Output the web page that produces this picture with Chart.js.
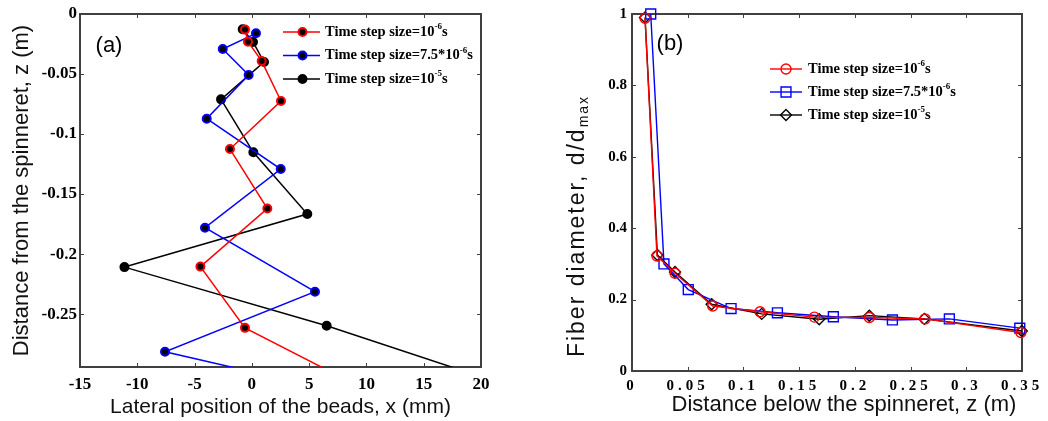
<!DOCTYPE html>
<html><head><meta charset="utf-8">
<script src="https://cdn.jsdelivr.net/npm/chart.js@4.4.0/dist/chart.umd.min.js"></script>
<style>
html,body{margin:0;padding:0;background:#fff;}
#wrap{position:relative;width:1048px;height:421px;overflow:hidden;background:#fff;}
canvas{position:absolute;top:0;}
#ca{left:0;} #cb{left:540px;}
</style></head><body>
<div id="wrap"><canvas id="ca" width="540" height="421"></canvas><canvas id="cb" width="508" height="421"></canvas></div>
<script>
// ---------- Panel (a): lateral position of beads ----------
const redXa   = [-0.6, -0.34, 0.86, 2.54, -1.91, 1.35, -4.49, -0.60, 9.33];
const redZa   = [-0.013, -0.0231, -0.0392, -0.0725, -0.1125, -0.162, -0.2104, -0.2614, -0.31];
const blueXa  = [0.36, -2.54, -0.28, -3.94, 2.52, -4.09, 5.51, -7.58, 15.0];
const blueZa  = [-0.0161, -0.0292, -0.0508, -0.0872, -0.1291, -0.178, -0.2313, -0.2813, -0.331];
const blackXa = [-0.80, 0.10, 1.06, -2.69, 0.13, 4.84, -11.12, 6.53, 22.5];
const blackZa = [-0.0127, -0.0233, -0.040, -0.0711, -0.1152, -0.1666, -0.2108, -0.2597, -0.31];
const xTicksA = [-15, -10, -5, 0, 5, 10, 15, 20];
const xTickLabelsA = ['-15', '-10', '-5', '0', '5', '10', '15', '20'];
const yTicksA = [0, -0.05, -0.1, -0.15, -0.2, -0.25];
const yTickLabelsA = ['0', '-0.05', '-0.1', '-0.15', '-0.2', '-0.25'];
const xTitleA = 'Lateral position of the beads, x (mm)';
const yTitleA = 'Distance from the spinneret, z (m)';

// ---------- Panel (b): fiber diameter ----------
const redZb   = [0.0117, 0.0224, 0.0386, 0.0724, 0.1149, 0.1637, 0.213, 0.263, 0.349];
const redDb   = [0.988, 0.322, 0.274, 0.182, 0.166, 0.151, 0.150, 0.146, 0.108];
const blueZb  = [0.0168, 0.0287, 0.0505, 0.0889, 0.1305, 0.1807, 0.2337, 0.2848, 0.348];
const blueDb  = [1.0, 0.300, 0.228, 0.175, 0.163, 0.152, 0.143, 0.146, 0.120];
const blackZb = [0.0117, 0.0228, 0.0386, 0.0715, 0.1164, 0.168, 0.213, 0.2624, 0.3498];
const blackDb = [0.99, 0.325, 0.277, 0.187, 0.160, 0.145, 0.155, 0.146, 0.112];
const xTicksB = [0, 0.05, 0.1, 0.15, 0.2, 0.25, 0.3, 0.35];
const xTickLabelsB = ['0', '0.05', '0.1', '0.15', '0.2', '0.25', '0.3', '0.35'];
const yTicksB = [0, 0.2, 0.4, 0.6, 0.8, 1];
const yTickLabelsB = ['0', '0.2', '0.4', '0.6', '0.8', '1'];
const xTitleB = 'Distance below the spinneret, z (m)';
const yTitleB = 'Fiber diameter, d/d';
const yTitleSubB = 'max';

// ---------- legend text ----------
const legendBase = ['Time step size=10', 'Time step size=7.5*10', 'Time step size=10'];
const legendExp  = ['-6', '-6', '-5'];
const legendUnit = 's';
const seriesLabels = ['Time step size=10^-6 s', 'Time step size=7.5*10^-6 s', 'Time step size=10^-5 s'];

Chart.defaults.font.family = 'Liberation Serif';
Chart.defaults.color = '#000';

function pts(xs, ys) { return xs.map((x, i) => ({x: x, y: ys[i]})); }

const framePlugin = {
  id: 'frame',
  beforeDatasetsDraw(chart, args, o) {
    const {ctx, chartArea: a, scales} = chart;
    ctx.save();
    ctx.strokeStyle = o.color;
    ctx.lineWidth = 1;
    const L = o.tickLen;
    ctx.beginPath();
    scales.x.ticks.forEach(t => {
      const p = Math.round(scales.x.getPixelForValue(t.value)) + 0.5;
      ctx.moveTo(p, a.bottom); ctx.lineTo(p, a.bottom - L);
      ctx.moveTo(p, a.top); ctx.lineTo(p, a.top + L);
    });
    scales.y.ticks.forEach(t => {
      const p = Math.round(scales.y.getPixelForValue(t.value)) + 0.5;
      ctx.moveTo(a.left, p); ctx.lineTo(a.left + L, p);
      ctx.moveTo(a.right, p); ctx.lineTo(a.right - L, p);
    });
    ctx.stroke();
    ctx.lineWidth = o.width;
    ctx.strokeRect(a.left, a.top, a.right - a.left, a.bottom - a.top);
    ctx.restore();
  }
};

const legendPlugin = {
  id: 'lgd',
  afterDraw(chart, args, o) {
    const ctx = chart.ctx;
    ctx.save();
    ctx.fillStyle = '#000';
    ctx.font = o.panelFont;
    ctx.textAlign = 'center'; ctx.textBaseline = 'middle';
    ctx.fillText(o.panel, o.px, o.py);
    chart.data.datasets.forEach((ds, i) => {
      const y = o.y + i * o.dy;
      ctx.save();
      ctx.strokeStyle = ds.borderColor; ctx.lineWidth = ds.borderWidth;
      ctx.beginPath(); ctx.moveTo(o.x0, y); ctx.lineTo(o.x1, y); ctx.stroke();
      ctx.fillStyle = ds.pointBackgroundColor;
      ctx.strokeStyle = ds.pointBorderColor;
      ctx.lineWidth = ds.pointBorderWidth;
      Chart.helpers.drawPoint(ctx, {pointStyle: ds.pointStyle, radius: ds.pointRadius, rotation: 0, borderWidth: ds.pointBorderWidth}, o.xm, y);
      ctx.fillStyle = '#000'; ctx.textBaseline = 'middle'; ctx.textAlign = 'left';
      let x = o.xt;
      ctx.font = o.font;
      ctx.fillText(legendBase[i], x, y); x += ctx.measureText(legendBase[i]).width;
      ctx.font = o.supFont;
      ctx.fillText(legendExp[i], x, y - o.supRise); x += ctx.measureText(legendExp[i]).width;
      ctx.font = o.font;
      ctx.fillText(legendUnit, x, y);
      ctx.restore();
    });
    ctx.restore();
  }
};

const titlePluginB = {
  id: 'ttlB',
  afterDraw(chart, args, o) {
    const ctx = chart.ctx;
    ctx.save();
    ctx.fillStyle = '#111';
    ctx.font = o.xFont; ctx.textAlign = 'center'; ctx.textBaseline = 'middle';
    ctx.fillText(xTitleB, o.xx, o.xy);
    ctx.translate(o.yx, o.yy); ctx.rotate(-Math.PI / 2);
    ctx.letterSpacing = o.ySpacing;
    ctx.textAlign = 'left';
    ctx.font = o.yFont; const w1 = ctx.measureText(yTitleB).width;
    ctx.font = o.subFont; const w2 = ctx.measureText(yTitleSubB).width;
    const start = -(w1 + w2) / 2;
    ctx.font = o.yFont; ctx.fillText(yTitleB, start, 0);
    ctx.font = o.subFont; ctx.fillText(yTitleSubB, start + w1, o.subDrop);
    ctx.letterSpacing = '0px';
    ctx.restore();
  }
};

const tickFontA = {family: 'Liberation Serif', size: 17, weight: 'bold'};
const tickFontB = {family: 'Liberation Serif', size: 15, weight: 'bold'};

// ---------------- Chart (a) ----------------
new Chart(document.getElementById('ca'), {
  type: 'scatter',
  data: {
    datasets: [
      {label: seriesLabels[0], data: pts(redXa, redZa), showLine: true, borderColor: '#ff0000', borderWidth: 1.5,
       pointRadius: 4, pointBorderWidth: 2, pointBackgroundColor: '#000', pointBorderColor: '#ff0000', pointStyle: 'circle', clip: 0},
      {label: seriesLabels[1], data: pts(blueXa, blueZa), showLine: true, borderColor: '#0000ff', borderWidth: 1.5,
       pointRadius: 4, pointBorderWidth: 2, pointBackgroundColor: '#000', pointBorderColor: '#0000ff', pointStyle: 'circle', clip: 0},
      {label: seriesLabels[2], data: pts(blackXa, blackZa), showLine: true, borderColor: '#000000', borderWidth: 1.5,
       pointRadius: 4, pointBorderWidth: 2, pointBackgroundColor: '#000', pointBorderColor: '#000000', pointStyle: 'circle', clip: 0}
    ]
  },
  options: {
    responsive: false, animation: false, devicePixelRatio: 1,
    layout: {padding: {left: 0, right: 59, top: 14, bottom: 0}},
    plugins: {
      legend: {display: false}, tooltip: {enabled: false},
      frame: {color: '#404040', width: 2, tickLen: 4},
      lgd: {panel: '(a)', panelFont: '22px "Liberation Sans"', px: 109, py: 46,
            x0: 283, x1: 320, xm: 302.5, xt: 325, y: 32, dy: 23.5,
            font: 'bold 14.5px "Liberation Serif"', supFont: 'bold 9px "Liberation Serif"', supRise: 5}
    },
    scales: {
      x: {type: 'linear', min: -15, max: 20,
          grid: {display: false, drawTicks: false}, border: {display: false},
          afterBuildTicks: s => { s.ticks = xTicksA.map(v => ({value: v})); },
          afterFit: s => { s.height = 54; },
          ticks: {font: tickFontA, color: '#000', padding: 7, maxRotation: 0, autoSkip: false,
                  callback: (v, i) => xTickLabelsA[i]},
          title: {display: true, text: xTitleA, color: '#111', font: {family: 'Liberation Sans', size: 21},
                  padding: {top: 0, bottom: 1.5}}},
      y: {type: 'linear', min: -0.294, max: 0,
          grid: {display: false, drawTicks: false}, border: {display: false},
          afterBuildTicks: s => { s.ticks = yTicksA.map(v => ({value: v})); },
          afterFit: s => { s.width = 80; },
          ticks: {font: tickFontA, color: '#000', padding: 3, autoSkip: false,
                  callback: (v, i) => yTickLabelsA[i]},
          title: {display: true, text: yTitleA, color: '#111', font: {family: 'Liberation Sans', size: 22},
                  padding: {top: 9, bottom: 0}}}
    }
  },
  plugins: [framePlugin, legendPlugin]
});

// ---------------- Chart (b) ----------------
new Chart(document.getElementById('cb'), {
  type: 'scatter',
  data: {
    datasets: [
      {label: seriesLabels[0], data: pts(redZb, redDb), showLine: true, borderColor: '#ff0000', borderWidth: 1.4,
       pointRadius: 5, pointBorderWidth: 1.4, pointBackgroundColor: 'rgba(0,0,0,0)', pointBorderColor: '#ff0000', pointStyle: 'circle', clip: false},
      {label: seriesLabels[1], data: pts(blueZb, blueDb), showLine: true, borderColor: '#0000ff', borderWidth: 1.4,
       pointRadius: 7, pointBorderWidth: 1.4, pointBackgroundColor: 'rgba(0,0,0,0)', pointBorderColor: '#0000ff', pointStyle: 'rect', clip: false},
      {label: seriesLabels[2], data: pts(blackZb, blackDb), showLine: true, borderColor: '#000000', borderWidth: 1.4,
       pointRadius: 5.5, pointBorderWidth: 1.4, pointBackgroundColor: 'rgba(0,0,0,0)', pointBorderColor: '#000000', pointStyle: 'rectRot', clip: false}
    ]
  },
  options: {
    responsive: false, animation: false, devicePixelRatio: 1,
    layout: {padding: {left: 0, right: 26, top: 13, bottom: 0}},
    plugins: {
      legend: {display: false}, tooltip: {enabled: false},
      frame: {color: '#404040', width: 2, tickLen: 4},
      lgd: {panel: '(b)', panelFont: '22px "Liberation Sans"', px: 130, py: 44,
            x0: 230, x1: 262, xm: 246, xt: 268, y: 69, dy: 23,
            font: 'bold 14.5px "Liberation Serif"', supFont: 'bold 9px "Liberation Serif"', supRise: 5},
      ttlB: {xFont: '22px "Liberation Sans"', xx: 304, xy: 405,
             yFont: '23px "Liberation Sans"', subFont: '14px "Liberation Sans"', ySpacing: '2px',
             yx: 38, yy: 226, subDrop: 6}
    },
    scales: {
      x: {type: 'linear', min: 0, max: 0.35,
          grid: {display: false, drawTicks: false}, border: {display: false},
          afterBuildTicks: s => { s.ticks = xTicksB.map(v => ({value: v})); },
          afterFit: s => {
            s.height = 50;
            const orig = Chart.Scale.prototype.drawLabels;
            s.drawLabels = function(area) {
              const c = this.ctx; c.save(); c.letterSpacing = '4px';
              orig.call(this, area); c.letterSpacing = '0px'; c.restore();
            };
          },
          ticks: {font: tickFontB, color: '#000', padding: 6, maxRotation: 0, autoSkip: false,
                  callback: (v, i) => xTickLabelsB[i]},
          title: {display: false}},
      y: {type: 'linear', min: 0, max: 1,
          grid: {display: false, drawTicks: false}, border: {display: false},
          afterBuildTicks: s => { s.ticks = yTicksB.map(v => ({value: v})); },
          afterFit: s => { s.width = 92; },
          ticks: {font: tickFontB, color: '#000', padding: 5, autoSkip: false,
                  callback: (v, i) => yTickLabelsB[i]},
          title: {display: false}}
    }
  },
  plugins: [framePlugin, legendPlugin, titlePluginB]
});
</script>
</body></html>
